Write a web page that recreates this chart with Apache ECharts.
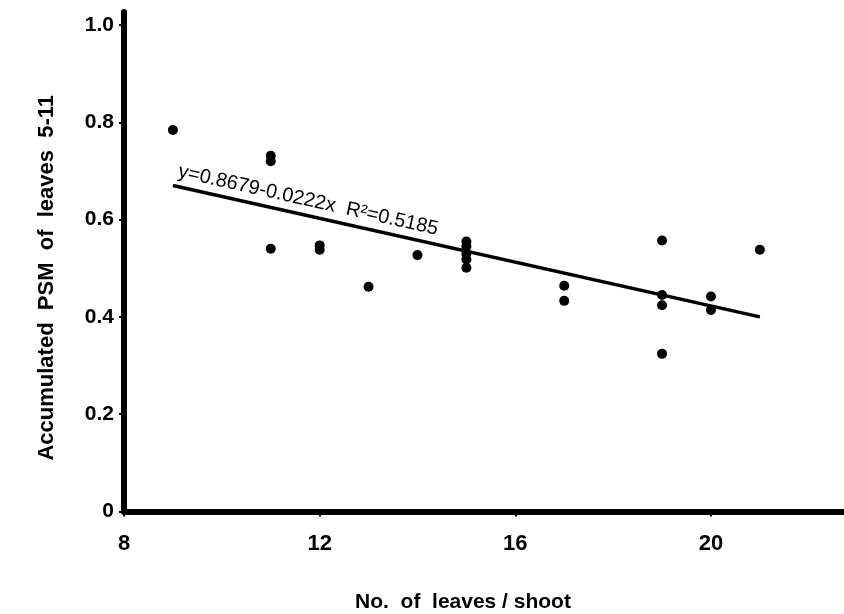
<!DOCTYPE html>
<html>
<head>
<meta charset="utf-8">
<script src="https://cdn.jsdelivr.net/npm/echarts@6/dist/echarts.min.js"></script>
<style>html,body{margin:0;padding:0;background:#fff}#c{width:844px;height:614px}</style>
</head>
<body>
<div id="c"></div>
<script>
// Observed points: leaves per shoot (x) vs accumulated PSM of leaves 5-11 (y)
const leavesX = [9, 11, 11, 11, 12, 12, 13, 14, 15, 15, 15, 15, 15, 17, 17, 19, 19, 19, 19, 20, 20, 21];
const psmY    = [0.784, 0.731, 0.720, 0.540, 0.547, 0.538, 0.462, 0.527, 0.555, 0.545, 0.530, 0.518, 0.501, 0.464, 0.433, 0.557, 0.445, 0.424, 0.324, 0.442, 0.414, 0.538];
// Regression line end points
const fitX = [9, 21];
const fitY = [0.670, 0.400];
const xTicks = [8, 12, 16, 20];
const yTicks = [0, 0.2, 0.4, 0.6, 0.8, 1.0];
const eqText = 'y=0.8679-0.0222x  R²=0.5185';
const xTitle = 'No.  of  leaves / shoot';
const yTitle = 'Accumulated  PSM  of  leaves  5-11';

const chart = echarts.init(document.getElementById('c'), null, {renderer: 'canvas'});
const FONT = 'Liberation Sans, Arial, sans-serif';
const points = leavesX.map((x, i) => [x, psmY[i]]);
const fit = fitX.map((x, i) => [x, fitY[i]]);

chart.setOption({
  backgroundColor: '#ffffff',
  animation: false,
  grid: {left: 124, right: 0, top: 12, bottom: 102.5, containLabel: false, outerBoundsMode: 'none'},
  xAxis: {
    type: 'value', min: 8, max: 22.72, interval: 4,
    axisLine: {show: true, lineStyle: {color: '#000', width: 6}},
    axisTick: {show: true, length: 5, lineStyle: {color: '#000', width: 2}},
    splitLine: {show: false},
    axisLabel: {
      color: '#000', fontFamily: FONT, fontWeight: 'bold', fontSize: 22, margin: 21,
      showMaxLabel: false,
      formatter: v => xTicks.includes(v) ? String(v) : ''
    },
    name: xTitle, nameLocation: 'middle', nameGap: 80,
    nameTextStyle: {color: '#000', fontFamily: FONT, fontWeight: 'bold', fontSize: 21, padding: [0, 42, 0, 0]}
  },
  yAxis: {
    type: 'value', min: 0, max: 1.0267, interval: 0.2,
    axisLine: {show: true, lineStyle: {color: '#000', width: 6}},
    axisTick: {show: true, length: 5, lineStyle: {color: '#000', width: 2}},
    splitLine: {show: false},
    axisLabel: {
      color: '#000', fontFamily: FONT, fontWeight: 'bold', fontSize: 21, margin: 10,
      showMaxLabel: false,
      formatter: v => {
        const t = yTicks.find(k => Math.abs(k - v) < 1e-6);
        if (t === undefined) return '';
        return t === 0 ? '0' : t.toFixed(1);
      }
    },
    name: yTitle, nameLocation: 'middle', nameGap: 66, nameRotate: 90,
    nameTextStyle: {color: '#000', fontFamily: FONT, fontWeight: 'bold', fontSize: 22, padding: [0, 32, 0, 0]}
  },
  series: [
    {
      type: 'scatter', data: points, symbol: 'circle', symbolSize: 10,
      itemStyle: {color: '#000', opacity: 1}, z: 3
    },
    {
      type: 'line', data: fit, showSymbol: false, symbol: 'none',
      lineStyle: {color: '#000', width: 3.5}, z: 2
    }
  ]
});

// Equation label, rotated along the regression line
const p1 = chart.convertToPixel({gridIndex: 0}, fit[0]);
const p2 = chart.convertToPixel({gridIndex: 0}, fit[1]);
const ang = Math.atan2(p2[1] - p1[1], p2[0] - p1[0]);
const t0 = 0.004;
const ax = p1[0] + (p2[0] - p1[0]) * t0 + Math.sin(ang) * 5;
const ay = p1[1] + (p2[1] - p1[1]) * t0 - Math.cos(ang) * 5;
chart.setOption({
  graphic: [{
    type: 'text', x: ax, y: ay, rotation: -ang,
    style: {
      text: eqText, fill: '#000', font: '20px ' + FONT,
      textAlign: 'left', textVerticalAlign: 'bottom'
    }
  }]
});
</script>
</body>
</html>
